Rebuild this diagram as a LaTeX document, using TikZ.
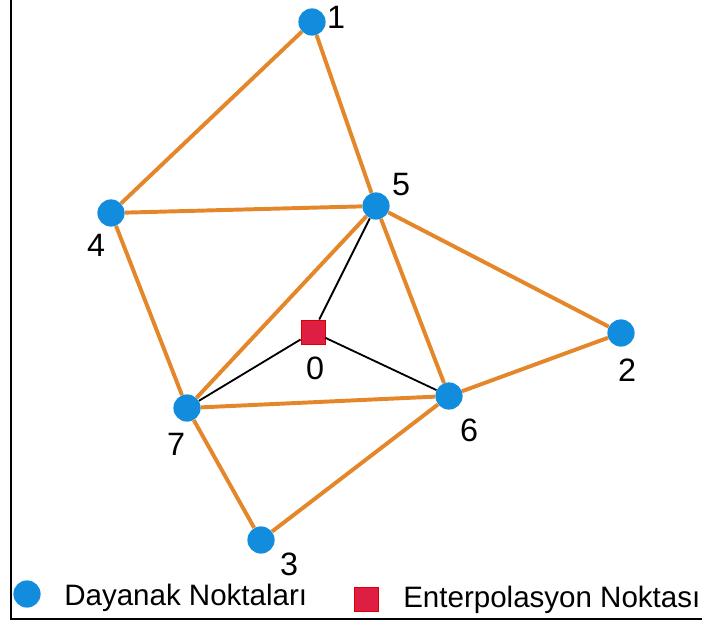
\documentclass[tikz,border=0pt]{standalone}
\usepackage{fontspec}
\setmainfont{Liberation Sans}
\definecolor{ptblue}{RGB}{18,140,220}
\definecolor{edgeorange}{RGB}{228,135,42}
\definecolor{ptred}{RGB}{222,30,66}

\begin{document}
\begin{tikzpicture}[x=0.025cm,y=-0.025cm]
\tikzstyle{every node}+=[inner sep=0pt]
\tikzstyle{point}=[circle,fill=ptblue,minimum size=0.68cm]
\tikzstyle{interp}=[rectangle,fill=ptred,draw=red!85!black,line width=0.6pt,minimum size=0.6cm]
\tikzstyle{link}=[edgeorange,line width=2.8pt]
\tikzstyle{blackline}=[black,line width=1.3pt]
\tikzstyle{num}=[font=\fontsize{23}{26}\selectfont]
\tikzstyle{legend}=[font=\fontsize{21}{25}\selectfont,anchor=base west]
\useasboundingbox (0,0) rectangle (702,623);
\draw [black,line width=1.5pt] (11,0) -- (11,619) -- (702,619);
% support points
\node [point] (p1) at (312,22) {};
\node [point] (p2) at (621,333) {};
\node [point] (p3) at (261,540) {};
\node [point] (p4) at (111,213) {};
\node [point] (p5) at (376,206) {};
\node [point] (p6) at (449,396) {};
\node [point] (p7) at (187,408) {};
\node [interp] (p0) at (313,332) {};
% labels
\node [num] (l1) at (336,17) {1};
\node [num] (l2) at (627,370) {2};
\node [num] (l3) at (289,564) {3};
\node [num] (l4) at (96,245) {4};
\node [num] (l5) at (401,185) {5};
\node [num] (l6) at (469,430) {6};
\node [num] (l7) at (176,444) {7};
\node [num] (l0) at (315,368) {0};
% triangulation
\draw [link] (p1) -- (p4);
\draw [link] (p1) -- (p5);
\draw [link] (p4) -- (p5);
\draw [link] (p4) -- (p7);
\draw [link] (p5) -- (p7);
\draw [link] (p5) -- (p6);
\draw [link] (p5) -- (p2);
\draw [link] (p2) -- (p6);
\draw [link] (p7) -- (p6);
\draw [link] (p7) -- (p3);
\draw [link] (p3) -- (p6);
\draw [blackline] (p0) -- (p5);
\draw [blackline] (p0) -- (p7);
\draw [blackline] (p0) -- (p6);
% legend
\node [point] (k1) at (27,594) {};
\node [legend] (t1) at (64,605) {Dayanak Noktaları};
\node [interp] (k2) at (366,599) {};
\node [legend] (t2) at (403,607) {Enterpolasyon Noktası};
\end{tikzpicture}
\end{document}
